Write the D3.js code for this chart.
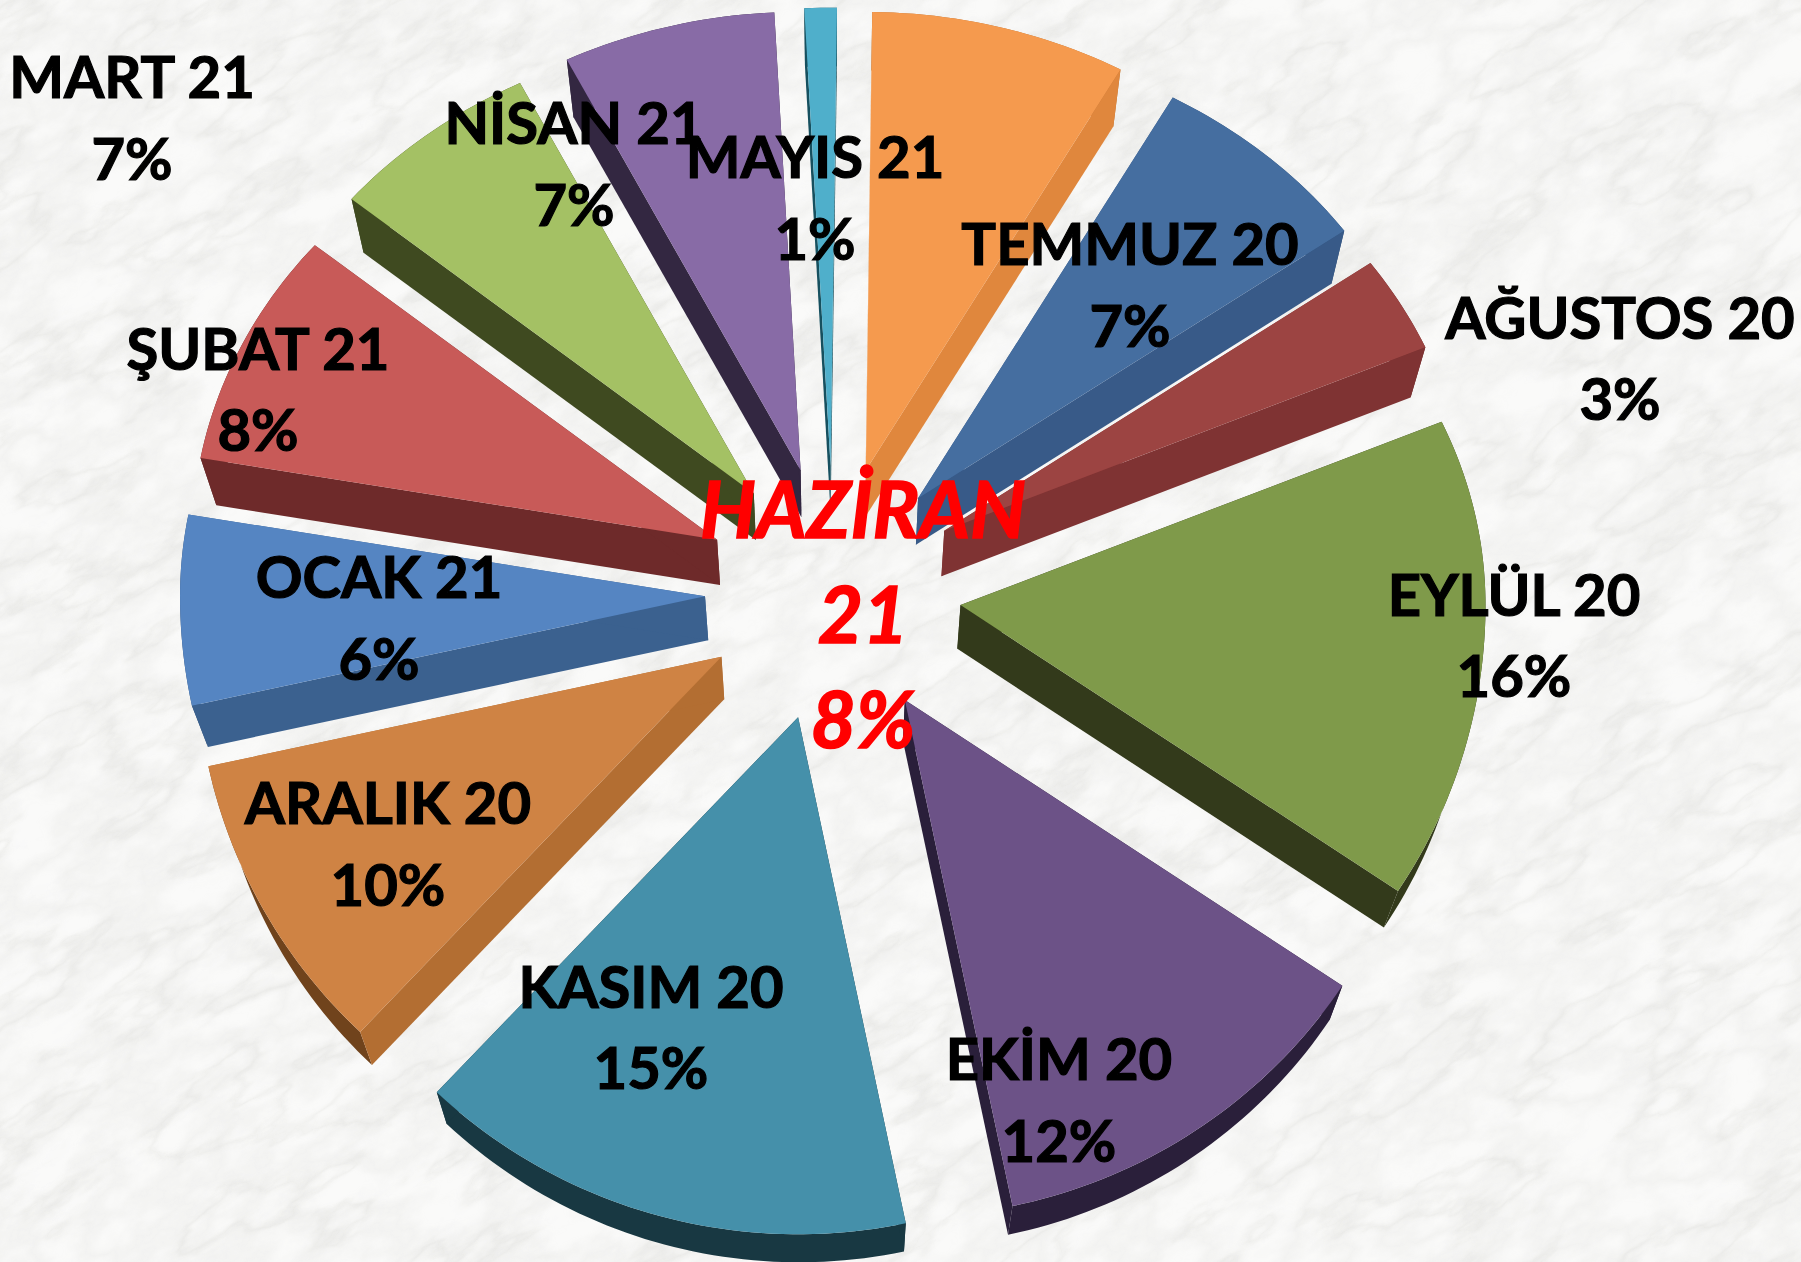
<!DOCTYPE html>
<html><head><meta charset="utf-8">
<script src="https://cdnjs.cloudflare.com/ajax/libs/d3/7.8.5/d3.min.js"></script>
<style>html,body{margin:0;padding:0;background:#f8f8f7;overflow:hidden}svg{display:block}</style>
</head><body><div id="chart"></div>
<script>
// Data
const categories = ["HAZİRAN 21","TEMMUZ 20","AĞUSTOS 20","EYLÜL 20","EKİM 20","KASIM 20","ARALIK 20","OCAK 21","ŞUBAT 21","MART 21","NİSAN 21","MAYIS 21"];
const shares = [7.93,7.07,3.4,16.0,12.49,15.49,9.6,6.3,8.32,6.6,6.6,1.0];
const percentLabels = ["8%","7%","3%","16%","12%","15%","10%","6%","8%","7%","7%","1%"];

// Styles, kept apart from the values
const topColors  = ["#F59A4E","#456EA0","#9C4442","#7F9A4A","#6C5287","#4590AA","#CF8344","#5585C2","#C85A58","#A4C164","#886BA6","#4FAFCB"];
const sideColors = ["#E0873D","#385A88","#7F3333","#333A1B","#2A1F3A","#183842","#B36E32","#3B618F","#6E2A2A","#3F4A20","#332741","#16505F"];
const rimColors  = ["#B86E30","#2C4A70","#6A2A2A","#333A1B","#2A1F3A","#183842","#70431C","#2F4E74","#5A2222","#3F4A20","#332741","#16505F"];
// Label anchors: [centre x, first baseline, second baseline]
const labelAnchors = [[863,538,748],[1130,265,347],[1620,339,420],[1514,616,697],[1059,1080,1162],[651,1008,1089],[388,824,906],[379,598,680],[258,370,451],[132,98,180],[574,144,226],[815,178,260]];

const W = 1801, H = 1262;
const cx = 833, cy = 594, R = 525, explode = 128;
const depth = 44, depthScale = 0.975;
const rotation = 0.7 * Math.PI / 180;

const svg = d3.select("#chart").append("svg").attr("width", W).attr("height", H).attr("viewBox", `0 0 ${W} ${H}`);
const defs = svg.append("defs");

// marble backdrop
function marble(id, freq, seed, table){
  const f = defs.append("filter").attr("id", id).attr("x",0).attr("y",0).attr("width","100%").attr("height","100%").attr("color-interpolation-filters","sRGB");
  f.append("feTurbulence").attr("type","fractalNoise").attr("baseFrequency",freq).attr("numOctaves",5).attr("seed",seed).attr("result","n");
  f.append("feColorMatrix").attr("type","matrix").attr("values","0 0 0 0 0.72  0 0 0 0 0.72  0 0 0 0 0.70  1 0 0 0 0");
  const t = f.append("feComponentTransfer");
  t.append("feFuncA").attr("type","table").attr("tableValues",table);
}
marble("veins","0.007 0.02",7,"0 0 0 0 0 0.08 0.4 0.08 0 0.0 0 0 0 0 0 0");
marble("cloud","0.012 0.02",21,"0 0 0 0 0 0.02 0.07 0.14 0.2 0.14 0.07 0.02 0 0 0 0");
svg.append("rect").attr("width",W).attr("height",H).attr("fill","#fafaf9");
const bg = svg.append("g").attr("transform",`rotate(-32 ${W/2} ${H/2})`);
[["veins",0.32],["cloud",0.55]].forEach(([id,o])=>bg.append("rect").attr("x",-500).attr("y",-700).attr("width",W+1000).attr("height",H+1400).attr("filter",`url(#${id})`).attr("opacity",o));

// scales: unit-circle coordinates to the tilted, perspective-flattened plane
const px = d3.scaleLinear().domain([-1,1]).range([-R,R]);
const py = d3.scaleLinear().domain([-1,0,1]).range([-R*0.873,0,R*0.985]);
const pie = d3.pie().sort(null).value(d=>d).startAngle(rotation).endAngle(rotation + 2*Math.PI);
const arcs = pie(shares);
const line = d3.line();

function lower(p){ // same point on the underside of the slice
  return [cx + (p[0]-cx)*depthScale, cy + (p[1]-cy)*depthScale + depth];
}
const slices = arcs.map((a,i)=>{
  const mid = (a.startAngle+a.endAngle)/2;
  const apex = [cx + explode*Math.sin(mid), cy - explode*Math.cos(mid)];
  const n = Math.max(2, Math.ceil((a.endAngle-a.startAngle)/0.02));
  const rim = d3.range(n+1).map(k=>{
    const t = a.startAngle + (a.endAngle-a.startAngle)*k/n;
    return [apex[0]+px(Math.sin(t)), apex[1]+py(-Math.cos(t))];
  });
  return {i, apex, rim};
});

const order = slices.slice().sort((a,b)=>a.apex[1]-b.apex[1]);
const gSlices = svg.append("g");
order.forEach(s=>{
  const g = gSlices.append("g");
  const low = s.rim.map(lower), lowA = lower(s.apex);
  // rim band
  g.append("path").attr("d", line(s.rim.concat(low.slice().reverse()))+"Z").attr("fill",rimColors[s.i]);
  // radial walls
  [[s.rim[0],low[0]],[s.rim[s.rim.length-1],low[low.length-1]]].forEach(([u,v])=>{
    g.append("path").attr("d", line([s.apex,u,v,lowA])+"Z").attr("fill",sideColors[s.i]);
  });
  // top face
  g.append("path").attr("d", line([s.apex].concat(s.rim))+"Z").attr("fill",topColors[s.i]);
});

// labels
const gText = svg.append("g").attr("text-anchor","middle").attr("font-family","Lato, 'Open Sans', sans-serif");
categories.forEach((c,i)=>{
  if(i===0) return;
  const [x,y1,y2] = labelAnchors[i];
  const t = gText.append("g").attr("font-size",58).attr("font-weight",700).attr("fill","#000").attr("stroke","#000").attr("stroke-width",1.2);
  t.append("text").attr("x",x).attr("y",y1).text(c);
  t.append("text").attr("x",x).attr("y",y2).text(percentLabels[i]);
});
const [hx,hy1,hy3] = labelAnchors[0];
const parts = categories[0].split(" ");
const hz = gText.append("g").attr("font-size",78).attr("font-weight",700).attr("font-style","italic").attr("fill","#FF0000").attr("stroke","#FF0000").attr("stroke-width",1.6);
hz.append("text").attr("x",hx).attr("y",hy1).text(parts[0]);
hz.append("text").attr("x",hx).attr("y",(hy1+hy3)/2).text(parts[1]);
hz.append("text").attr("x",hx).attr("y",hy3).text(percentLabels[0]);
</script>
</body></html>
